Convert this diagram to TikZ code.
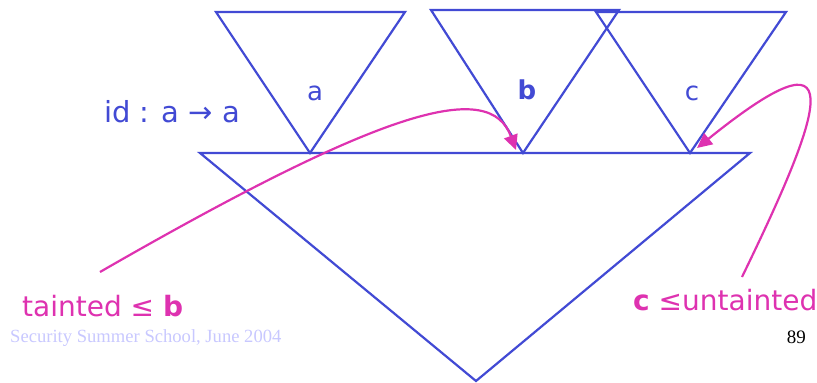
\documentclass[tikz,border=0pt]{standalone}
\usepackage{fontspec}
\setmainfont{DejaVu Sans}
\newfontfamily\timesfont{Liberation Serif}
\usetikzlibrary{arrows.meta}
\definecolor{tblue}{RGB}{66,74,212}
\definecolor{tpink}{RGB}{222,50,176}
\definecolor{tpale}{RGB}{200,200,255}
\tikzset{
  tri/.style={draw=tblue, line width=2.2pt, line join=miter},
  lbl/.style={text=tblue, font=\fontsize{26}{30}\selectfont, inner sep=0pt},
  pinklbl/.style={text=tpink, font=\fontsize{28}{32}\selectfont, inner sep=0pt, anchor=base west},
  parrow/.style={draw=tpink, line width=2.2pt, -{Triangle[length=15pt,width=14pt]}},
}
\begin{document}
\begin{tikzpicture}[x=1pt,y=-1pt]
\useasboundingbox (0,0) rectangle (817,383);
% corner coordinates
\coordinate (aL) at (216,12);  \coordinate (aR) at (405,12);  \coordinate (aA) at (310,153);
\coordinate (bL) at (431,10);  \coordinate (bR) at (619,10);  \coordinate (bA) at (523,153);
\coordinate (cL) at (596,12);  \coordinate (cR) at (786,12);  \coordinate (cA) at (690,153);
\coordinate (TL) at (200,153); \coordinate (TR) at (750,153); \coordinate (TA) at (476,381);
% triangles
\draw[tri] (TL) -- (TR) -- (TA) -- cycle;
\draw[tri] (aL) -- (aR) -- (aA) -- cycle;
\draw[tri] (cL) -- (cR) -- (cA) -- cycle;
\draw[tri] (bL) -- (bR) -- (bA) -- cycle;
% labels
\node[lbl, anchor=base] (la) at (315,100) {a};
\node[lbl, anchor=base] (lb) at (527,99) {\bfseries b};
\node[lbl, anchor=base] (lc) at (692,100) {c};
\node[lbl, anchor=base west, font=\fontsize{29}{32}\selectfont] (id) at (104,122) {id : a → a};
% pink annotations
\node[pinklbl] (tb) at (22,316) {tainted ≤ \textbf{b}};
\node[pinklbl] (cu) at (633,310) {\textbf{c} ≤untainted};
\coordinate (s1) at (100,272);
\coordinate (e1) at (516,150);
\coordinate (s2) at (742,277);
\coordinate (e2) at (697,148);
\draw[parrow] (s1) .. controls (390,105) and (490,80) .. (e1);
\draw[parrow] (s2) .. controls (828,100) and (850,25) .. (e2);
% footer
\node[anchor=base west, inner sep=0pt, text=tpale, font=\timesfont\fontsize{18.6}{20}\selectfont] (foot) at (10,342) {Security Summer School, June 2004};
\node[anchor=base east, inner sep=0pt, text=black, font=\timesfont\fontsize{19}{20}\selectfont] (pg) at (806,343) {89};
\end{tikzpicture}
\end{document}
